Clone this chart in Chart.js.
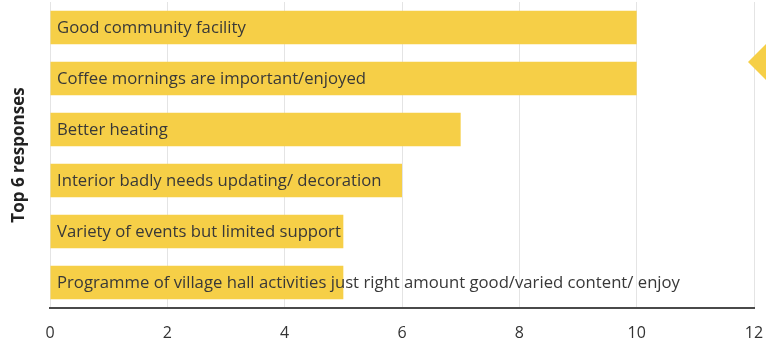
<!DOCTYPE html>
<html>
<head>
<meta charset="utf-8">
<script src="https://cdn.jsdelivr.net/npm/chart.js@4"></script>
<style>
  html, body { margin: 0; padding: 0; background: #fff; }
  #wrap { width: 766px; height: 351px; position: relative; }
</style>
</head>
<body>
<div id="wrap"><canvas id="responsesChart"></canvas></div>
<script>
// survey answers, most frequent first
var responses = [
  'Good community facility',
  'Coffee mornings are important/enjoyed',
  'Better heating',
  'Interior badly needs updating/ decoration',
  'Variety of events but limited support',
  'Programme of village hall activities just right amount good/varied content/ enjoy'
];
var counts = [10, 10, 7, 6, 5, 5];

var barYellow = '#F6CF47';
var fontFamily = '"Open Sans", "Noto Sans", sans-serif';

// writes each response text over the left end of its bar
var barLabels = {
  id: 'barLabels',
  afterDatasetsDraw: function(chart) {
    var ctx = chart.ctx;
    var meta = chart.getDatasetMeta(0);
    ctx.save();
    ctx.font = '16.7px ' + fontFamily;
    ctx.fillStyle = '#383838';
    ctx.textBaseline = 'middle';
    ctx.textAlign = 'left';
    meta.data.forEach(function(bar, i) {
      ctx.fillText(chart.data.labels[i], chart.chartArea.left + 7, bar.y + 1);
    });
    ctx.restore();
  }
};

// little yellow marker sticking in from the right edge
var edgeMarker = {
  id: 'edgeMarker',
  afterDraw: function(chart) {
    var ctx = chart.ctx;
    ctx.save();
    ctx.fillStyle = barYellow;
    ctx.beginPath();
    ctx.moveTo(748, 62);
    ctx.lineTo(768, 42);
    ctx.lineTo(768, 82);
    ctx.closePath();
    ctx.fill();
    ctx.restore();
  }
};

var ctx = document.getElementById('responsesChart').getContext('2d');
var responsesChart = new Chart(ctx, {
  type: 'bar',
  data: {
    labels: responses,
    datasets: [{
      data: counts,
      backgroundColor: barYellow,
      borderWidth: 0,
      categoryPercentage: 1,
      barPercentage: 0.66
    }]
  },
  plugins: [barLabels, edgeMarker],
  options: {
    indexAxis: 'y',
    responsive: true,
    maintainAspectRatio: false,
    animation: false,
    layout: { padding: { top: 2, right: 0, left: 0, bottom: 0 } },
    plugins: {
      legend: { display: false },
      tooltip: { enabled: false }
    },
    scales: {
      x: {
        min: 0,
        max: 12,
        ticks: {
          stepSize: 2,
          padding: 16,
          color: '#333',
          font: { family: fontFamily, size: 16 }
        },
        grid: { color: '#e4e4e4', drawTicks: false },
        border: { color: '#4a4a4a', width: 2 },
        afterFit: function(scale) {
          scale.height = 43;
          scale.paddingRight = 12;
        }
      },
      y: {
        ticks: { display: false },
        grid: { display: false },
        border: { display: false },
        title: {
          display: true,
          text: 'Top 6 responses',
          color: '#222',
          font: { family: fontFamily, size: 17, weight: 'bold' },
          padding: { top: 9, bottom: 0 }
        },
        afterFit: function(scale) { scale.width = 50; }
      }
    }
  }
});
</script>
</body>
</html>
